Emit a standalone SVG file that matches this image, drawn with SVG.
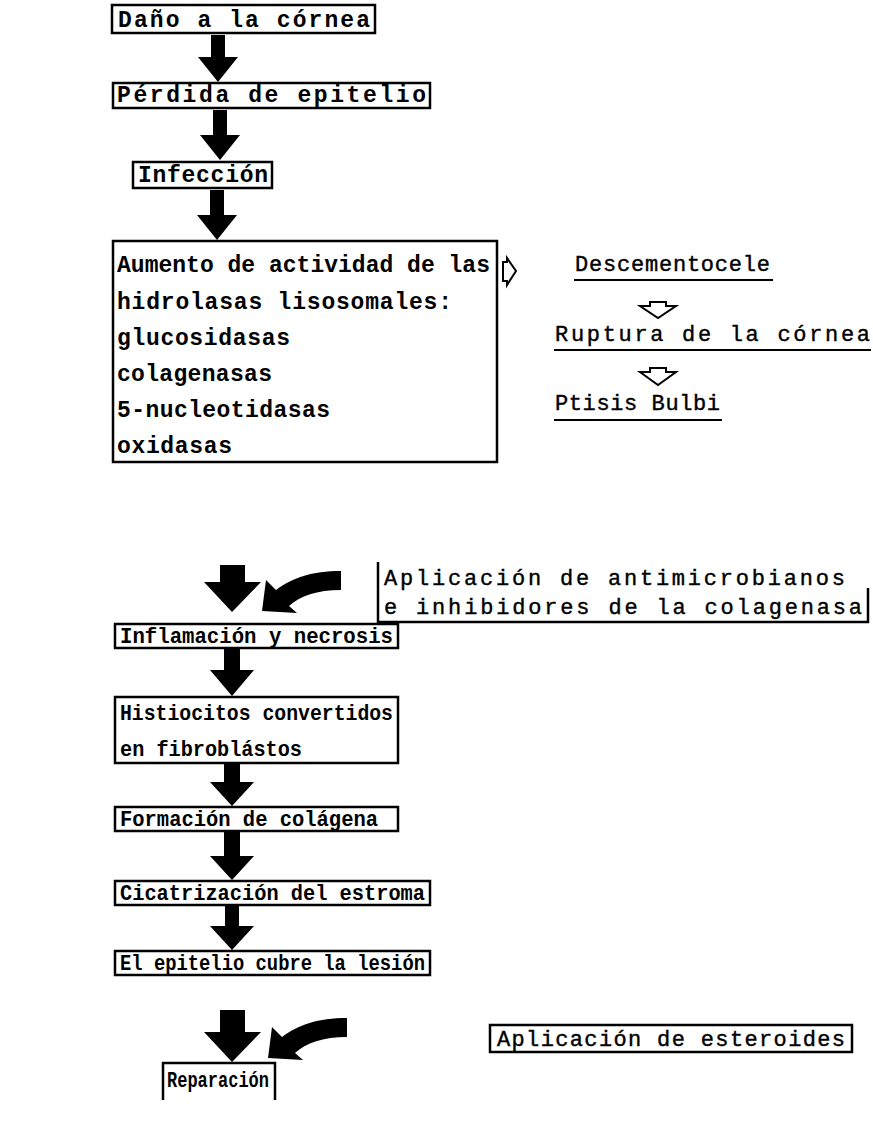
<svg xmlns="http://www.w3.org/2000/svg" width="873" height="1128" viewBox="0 0 873 1128">
<style>
.b{font-family:"Liberation Mono","DejaVu Sans Mono",monospace;font-weight:bold;font-size:23px;fill:#000}
.bs{font-family:"Liberation Mono","DejaVu Sans Mono",monospace;font-weight:bold;font-size:22px;fill:#000}
.r{font-family:"Liberation Mono","DejaVu Sans Mono",monospace;font-weight:normal;font-size:22px;fill:#000;stroke:#000;stroke-width:0.4}
.box{fill:none;stroke:#000;stroke-width:2.5}
.sa{fill:#000}
.ha{fill:#fff;stroke:#000;stroke-width:2;stroke-linejoin:miter}
.ul{stroke:#000;stroke-width:2}
</style>
<defs>
<path id="curv" d="M0,0 L4,-31 L14,-21 C30,-33 50,-40 79,-40 L79,-21 C55,-21 38,-15 27,-5 L35,2 Z"/>
</defs>
<rect width="873" height="1128" fill="#fff"/>

<g id="connectors">
<path class="sa" d="M211,35 H225 V57 H238 L218,82 L198,57 H211 Z"/>
<path class="sa" d="M213,110 H227 V135 H240 L220,160 L200,135 H213 Z"/>
<path class="sa" d="M210,190 H224 V215 H237 L217,240 L197,215 H210 Z"/>
<path class="sa" d="M220,565 H245 V582 H261 L232,612 L204,582 H220 Z"/>
<use href="#curv" class="sa" x="262" y="611"/>
<path class="sa" d="M224,648 H240 V670 H254 L232,696 L210,670 H224 Z"/>
<path class="sa" d="M224,763 H240 V782 H254 L232,806 L210,782 H224 Z"/>
<path class="sa" d="M224,832 H240 V856 H254 L232,880 L210,856 H224 Z"/>
<path class="sa" d="M225,906 H239 V926 H254 L232,950 L210,926 H225 Z"/>
<path class="sa" d="M220,1010 H245 V1032 H261 L232,1062 L204,1032 H220 Z"/>
<use href="#curv" class="sa" x="268" y="1058"/>
<path class="ha" d="M503,262 H507 V258 L516,271 L507,285 V281 H503 Z"/>
<path class="ha" d="M650,302 H666 V306 H676 L658,318 L640,306 H650 Z"/>
<path class="ha" d="M650,368 H666 V372 H676 L658,385 L640,372 H650 Z"/>
</g>

<g id="n1">
<rect class="box" x="112" y="5" width="263" height="28"/>
<text class="b" x="118" y="27" textLength="252" lengthAdjust="spacing">Daño a la córnea</text>
</g>
<g id="n2">
<rect class="box" x="113" y="83" width="317" height="25"/>
<text class="b" x="117" y="102" textLength="309" lengthAdjust="spacing">Pérdida de epitelio</text>
</g>
<g id="n3">
<rect class="box" x="133" y="162" width="139" height="26"/>
<text class="b" x="138" y="182" textLength="130" lengthAdjust="spacing">Infección</text>
</g>
<g id="n4">
<rect class="box" x="113" y="241" width="384" height="221"/>
<text class="b" x="117" y="272" textLength="373" lengthAdjust="spacing">Aumento de actividad de las</text>
<text class="b" x="117" y="309" textLength="335" lengthAdjust="spacing">hidrolasas lisosomales:</text>
<text class="b" x="117" y="345" textLength="173" lengthAdjust="spacing">glucosidasas</text>
<text class="b" x="117" y="381" textLength="155" lengthAdjust="spacing">colagenasas</text>
<text class="b" x="117" y="417" textLength="213" lengthAdjust="spacing">5-nucleotidasas</text>
<text class="b" x="117" y="453" textLength="115" lengthAdjust="spacing">oxidasas</text>
</g>
<g id="n5">
<text class="r" x="575" y="271" textLength="195" lengthAdjust="spacing">Descementocele</text>
<line class="ul" x1="574" y1="280" x2="773" y2="280"/>
</g>
<g id="n6">
<text class="r" x="555" y="341" textLength="315" lengthAdjust="spacing">Ruptura de la córnea</text>
<line class="ul" x1="554" y1="350" x2="871" y2="350"/>
</g>
<g id="n7">
<text class="r" x="555" y="410" textLength="165" lengthAdjust="spacing">Ptisis Bulbi</text>
<line class="ul" x1="554" y1="420" x2="722" y2="420"/>
</g>
<g id="n8">
<path class="box" d="M378,562 V622 H868 V588"/>
<text class="r" x="384" y="585" textLength="461" lengthAdjust="spacing">Aplicación de antimicrobianos</text>
<text class="r" x="384" y="614" textLength="478" lengthAdjust="spacing">e inhibidores de la colagenasa</text>
</g>
<g id="n9">
<rect class="box" x="115" y="624" width="283" height="24"/>
<text class="bs" x="120" y="643" textLength="273" lengthAdjust="spacingAndGlyphs">Inflamación y necrosis</text>
</g>
<g id="n10">
<rect class="box" x="115" y="697" width="283" height="66"/>
<text class="bs" x="120" y="720" textLength="273" lengthAdjust="spacingAndGlyphs">Histiocitos convertidos</text>
<text class="bs" x="120" y="756" textLength="182" lengthAdjust="spacingAndGlyphs">en fibroblástos</text>
</g>
<g id="n11">
<rect class="box" x="115" y="807" width="283" height="24"/>
<text class="bs" x="120" y="826" textLength="258" lengthAdjust="spacingAndGlyphs">Formación de colágena</text>
</g>
<g id="n12">
<rect class="box" x="115" y="881" width="315" height="24"/>
<text class="bs" x="120" y="900" textLength="305" lengthAdjust="spacingAndGlyphs">Cicatrización del estroma</text>
</g>
<g id="n13">
<rect class="box" x="115" y="951" width="315" height="24"/>
<text class="bs" x="120" y="970" textLength="305" lengthAdjust="spacingAndGlyphs">El epitelio cubre la lesión</text>
</g>
<g id="n14">
<rect class="box" x="490" y="1025" width="362" height="27"/>
<text class="r" x="497" y="1046" textLength="348" lengthAdjust="spacing">Aplicación de esteroides</text>
</g>
<g id="n15">
<path class="box" d="M163,1100 V1063 H275 V1100"/>
<text class="bs" x="167" y="1087" textLength="102" lengthAdjust="spacingAndGlyphs">Reparación</text>
</g>
</svg>
